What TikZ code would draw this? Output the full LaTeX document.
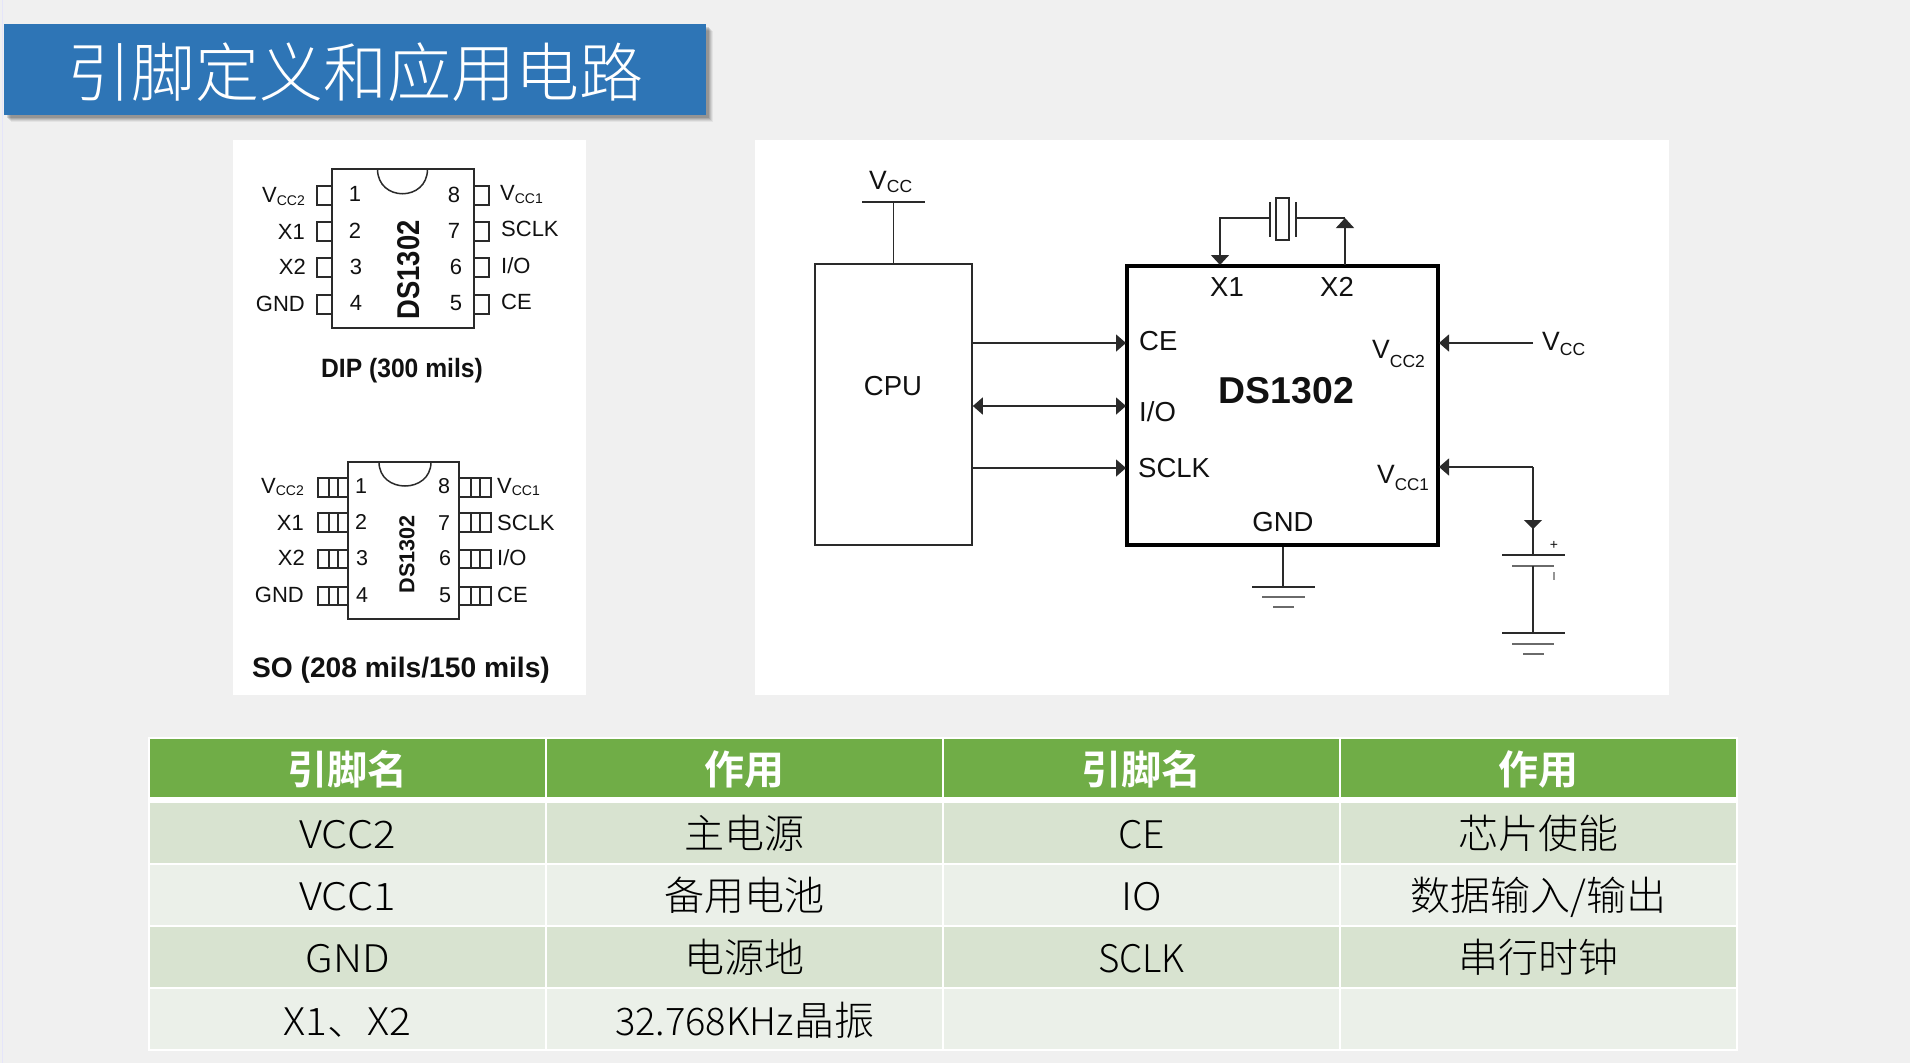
\documentclass[tikz,border=0pt]{standalone}
\usepackage{fontspec}
\usepackage{graphicx}
\usetikzlibrary{arrows.meta}
\newfontfamily\arial{Liberation Sans}
\newfontfamily\cjk{Noto Sans CJK SC Light}
\newfontfamily\cjkb{Noto Sans CJK SC Bold}
\definecolor{pagebg}{HTML}{F0F0F0}
\definecolor{titleblue}{HTML}{2E75B6}
\definecolor{headgreen}{HTML}{70AD47}
\definecolor{rowdark}{HTML}{D8E3D0}
\definecolor{rowlight}{HTML}{EBF0E9}
\definecolor{ink}{HTML}{111111}
\definecolor{wire}{HTML}{2A2A2A}
\newcommand\vsub[4]{{\fontsize{#1}{#1}\selectfont V\raisebox{-#3pt}{\fontsize{#2}{#2}\selectfont #4}}}
\newcommand\hs[2]{{\fontsize{38}{38}\selectfont\scalebox{#1}[1]{#2}}}
\tikzset{
  fa/.style={inner sep=0pt,text=ink,font={\arial\fontsize{#1}{#1}\selectfont}},
  fb/.style={inner sep=0pt,text=ink,font={\arial\bfseries\fontsize{#1}{#1}\selectfont}},
  panel/.style={fill=white,draw=none},
  chip/.style={draw=wire,line width=#1,fill=none},
  wireline/.style={draw=wire,line width=1.5pt},
  arr/.style={wireline,-{Triangle[length=10pt,width=17pt]}},
  biarr/.style={wireline,{Triangle[length=10pt,width=17pt]}-{Triangle[length=10pt,width=17pt]}},
  cellbase/.style={inner sep=0pt,outer sep=0pt,minimum width=395pt,text=black,
     font={\cjk\fontsize{40}{40}\selectfont}},
  headcell/.style={cellbase,fill=headgreen,text=white,minimum height=58pt,text height=45.5pt,text depth=12.5pt,
     font={\cjkb\fontsize{40}{40}\selectfont}},
  darkcell/.style={cellbase,fill=rowdark,minimum height=60pt,text height=45.5pt,text depth=14.5pt},
  lightcell/.style={cellbase,fill=rowlight,minimum height=60pt,text height=45.5pt,text depth=14.5pt},
  lastcell/.style={cellbase,fill=rowlight,minimum height=60pt,text height=46.5pt,text depth=13.5pt},
}
\begin{document}
\begin{tikzpicture}[x=1pt,y=-1pt]
\useasboundingbox (0,0) rectangle (1910,1063);
\fill[pagebg] (0,0) rectangle (1910,1063);
\draw[color=black!20!blue!10!white,line width=1pt] (2.8,0) -- (2.8,1063);
% title
\foreach \d/\o in {7/.05,6/.07,5/.09,4/.11,3/.13}{
  \fill[black,opacity=\o] (4+\d,24+\d) rectangle (706+\d,115+\d);
}
\node[fill=titleblue,inner sep=0pt,outer sep=0pt,minimum width=702pt,minimum height=91pt,text=white,
  text height=60pt,text depth=7pt,
  font={\cjk\fontsize{64}{64}\selectfont}] (title) at (355,69.5) {引脚定义和应用电路};
% panels
\fill[panel] (233,140) rectangle (586,695);
\fill[panel] (755,140) rectangle (1669,695);

% ---------- DIP ----------
\node[chip=2.5pt,minimum width=142pt,minimum height=159pt,inner sep=0pt] (dip) at (403,248.5) {};
\draw[wireline] (377.5,169) .. controls (377.5,202) and (427.5,202) .. (427.5,169);
\foreach \a/\b in {186/205,222/241,258/277,295/314}{
  \draw[wireline] (332,\a) -- (317,\a) -- (317,\b) -- (332,\b);
  \draw[wireline] (474,\a) -- (489,\a) -- (489,\b) -- (474,\b);
}
\node[fa=22] (d1) at (355,194) {1};
\node[fa=22] (d2) at (355,231) {2};
\node[fa=22] (d3) at (356,267) {3};
\node[fa=22] (d4) at (356,303) {4};
\node[fa=22] (d8) at (454,195) {8};
\node[fa=22] (d7) at (454,231) {7};
\node[fa=22] (d6) at (456,267) {6};
\node[fa=22] (d5) at (456,303) {5};
\node[fa=22,anchor=base west] (dv2) at (262,202) {\vsub{22}{14}{3}{CC2}};
\node[fa=22,anchor=base east] (dx1) at (305,239) {X1};
\node[fa=22,anchor=base east] (dx2) at (306,274) {X2};
\node[fa=22,anchor=base east] (dg) at (305,311) {GND};
\node[fa=22,anchor=base west] (dv1) at (500,200) {\vsub{22}{14}{3}{CC1}};
\node[fa=22,anchor=base west] (dsc) at (501,236) {SCLK};
\node[fa=22,anchor=base west] (dio) at (501,273) {I/O};
\node[fa=22,anchor=base west] (dce) at (501,309) {CE};
\node[fb=27.4,rotate=90] (dname) at (409,270) {\scalebox{1}[1.15]{DS1302}};
\node[fb=26.5,anchor=base] (dcap) at (402,377) {\scalebox{.93}[1]{DIP (300 mils)}};

% ---------- SO ----------
\node[chip=2pt,minimum width=111pt,minimum height=157pt,inner sep=0pt] (so) at (403.5,540.5) {};
\draw[wireline] (379,462) .. controls (379,494) and (431,494) .. (431,462);
\foreach \a/\b in {478/497,513/532,550/568,587/605}{
  \draw[wireline] (348,\a) -- (318,\a) -- (318,\b) -- (348,\b);
  \draw[wireline] (329,\a) -- (329,\b);
  \draw[wireline] (338,\a) -- (338,\b);
  \draw[wireline] (459,\a) -- (491,\a) -- (491,\b) -- (459,\b);
  \draw[wireline] (471,\a) -- (471,\b);
  \draw[wireline] (480,\a) -- (480,\b);
}
\node[fa=21.5] (s1) at (361,486) {1};
\node[fa=21.5] (s2) at (361,522) {2};
\node[fa=21.5] (s3) at (362,558) {3};
\node[fa=21.5] (s4) at (362,595) {4};
\node[fa=21.5] (s8) at (444,486) {8};
\node[fa=21.5] (s7) at (444,523) {7};
\node[fa=21.5] (s6) at (445,558) {6};
\node[fa=21.5] (s5) at (445,595) {5};
\node[fa=22,anchor=base west] (sv2) at (261,493) {\vsub{22}{14}{2}{CC2}};
\node[fa=22,anchor=base east] (sx1) at (304,530) {X1};
\node[fa=22,anchor=base east] (sx2) at (305,565) {X2};
\node[fa=22,anchor=base east] (sg) at (304,602) {GND};
\node[fa=22,anchor=base west] (sv1) at (497,493) {\vsub{22}{14}{2}{CC1}};
\node[fa=22,anchor=base west] (ssc) at (497,530) {SCLK};
\node[fa=22,anchor=base west] (sio) at (497,565) {I/O};
\node[fa=22,anchor=base west] (sce) at (497,602) {CE};
\node[fb=21.6,rotate=90] (sname) at (407,554) {DS1302};
\node[fb=28.2,anchor=base] (scap) at (401,677) {SO (208 mils/150 mils)};

% ---------- application schematic ----------
\node[draw=wire,line width=1.6pt,minimum width=157pt,minimum height=281pt,inner sep=0pt] (cpu) at (893.5,404.5) {};
\node[draw=black,line width=4pt,minimum width=311pt,minimum height=279pt,inner sep=0pt] (ds) at (1282.5,405) {};
\node[fa=27.5,anchor=base] (cputxt) at (893,395) {CPU};
\node[fb=37.4,anchor=base] (dstxt) at (1286.5,403) {DS1302};
\node[fa=27.5,anchor=base west] (lce) at (1139,350) {CE};
\node[fa=27.5,anchor=base west] (lio) at (1139,421) {I/O};
\node[fa=27.5,anchor=base west] (lsc) at (1138,477) {SCLK};
\node[fa=27.5,anchor=base west] (lx1) at (1210,296) {X1};
\node[fa=27.5,anchor=base west] (lx2) at (1320,296) {X2};
\node[fa=27.5,anchor=base] (lg) at (1283,531) {GND};
\node[fa=26.5,anchor=base west] (lvc2) at (1372,358) {\vsub{26.5}{17.5}{9}{CC2}};
\node[fa=26.5,anchor=base west] (lvc1) at (1377,483) {\vsub{26.5}{17}{7}{CC1}};
\node[fa=26.5,anchor=base west] (vcctop) at (869,189) {\vsub{26.5}{17.5}{3}{CC}};
\node[fa=26.5,anchor=base west] (vccright) at (1542,350) {\vsub{26.5}{17.5}{5}{CC}};

% CPU supply
\coordinate (barL) at (862,202);
\coordinate (barR) at (925,202);
\draw[wireline] (barL) -- (barR);
\draw[wireline] (cpu.north) -- (893.5,202);
% bus
\coordinate (ce) at (0,343);
\coordinate (io) at (0,406);
\coordinate (sc) at (0,468);
\draw[arr] (cpu.east |- ce) -- ([xshift=1pt]ds.west |- ce);
\draw[biarr] (cpu.east |- io) -- ([xshift=1pt]ds.west |- io);
\draw[arr] (cpu.east |- sc) -- ([xshift=1pt]ds.west |- sc);
% crystal
\coordinate (xa) at (1220,265);
\coordinate (xb) at (1345,265);
\coordinate (plA) at (1270,218);
\coordinate (plB) at (1296,218);
\draw[wireline,-{Triangle[length=10pt,width=18pt]}] (plA) -- (xa |- plA) -- (xa);
\draw[wireline,-{Triangle[length=10pt,width=18pt]}] (xb) -- (xb |- plB);
\draw[wireline] (plB) -- (xb |- plB);
\draw[wireline] (1270,202) -- (1270,237);
\draw[wireline] (1296,202) -- (1296,237);
\draw[wireline] (1276,198) rectangle (1289,240);
% Vcc2
\coordinate (v2end) at (1533,343);
\draw[arr] (v2end) -- ([xshift=-1pt]ds.east |- v2end);
% Vcc1 + battery
\coordinate (v1c) at (1533,467);
\coordinate (bat) at (1533,555);
\draw[arr] (v1c) -- ([xshift=-1pt]ds.east |- v1c);
\draw[wireline] (v1c) -- (bat);
\draw[wireline,-{Triangle[length=9pt,width=18pt]}] (v1c) -- (1533,529);
\draw[wireline] (1502,555) -- (1565,555);
\draw[wireline,draw=wire!70] (1512,566) -- (1554,566);
\draw[wireline] (1533,566) -- (1533,633);
\draw[wireline] (1502,633) -- (1565,633);
\draw[wireline,draw=wire!70] (1512,644) -- (1554,644);
\draw[wireline,draw=wire!70] (1523,654) -- (1544,654);
\node[fa=14] (plus) at (1554,545) {+};
\draw[wireline,draw=wire!50] (1554,572) -- (1554,580);
% GND
\draw[wireline] (ds.south) ++(0.5,0) -- (1283,587);
\draw[wireline] (1252,587) -- (1315,587);
\draw[wireline,draw=wire!70] (1262,597) -- (1305,597);
\draw[wireline,draw=wire!70] (1273,607) -- (1294,607);

% ---------- table ----------
\fill[white] (148,737) rectangle (1738,1051);
\node[headcell] (h1) at (347.5,768) {引脚名};
\node[headcell] (h2) at (744.5,768) {作用};
\node[headcell] (h3) at (1141.5,768) {引脚名};
\node[headcell] (h4) at (1538.5,768) {作用};
\node[darkcell] (a1) at (347.5,833) {\hs{1.1}{VCC2}};
\node[darkcell] (a2) at (744.5,833) {主电源};
\node[darkcell] (a3) at (1141.5,833) {\hs{1.03}{CE}};
\node[darkcell] (a4) at (1538.5,833) {芯片使能};
\node[lightcell] (b1) at (347.5,894.5) {\hs{1.1}{VCC1}};
\node[lightcell] (b2) at (744.5,894.5) {备用电池};
\node[lightcell] (b3) at (1141.5,894.5) {\hs{1.07}{IO}};
\node[lightcell] (b4) at (1538.5,894.5) {数据输入/输出};
\node[darkcell] (c1) at (347.5,956.5) {\hs{1.08}{GND}};
\node[darkcell] (c2) at (744.5,956.5) {电源地};
\node[darkcell] (c3) at (1141.5,956.5) {\hs{.97}{SCLK}};
\node[darkcell] (c4) at (1538.5,956.5) {串行时钟};
\node[lastcell] (e1) at (347.5,1018.5) {\hs{1.07}{X1、X2}};
\node[lastcell] (e2) at (744.5,1018.5) {\hs{1}{32.768KHz}晶振};
\node[lastcell] (e3) at (1141.5,1018.5) {};
\node[lastcell] (e4) at (1538.5,1018.5) {};
\end{tikzpicture}
\end{document}
